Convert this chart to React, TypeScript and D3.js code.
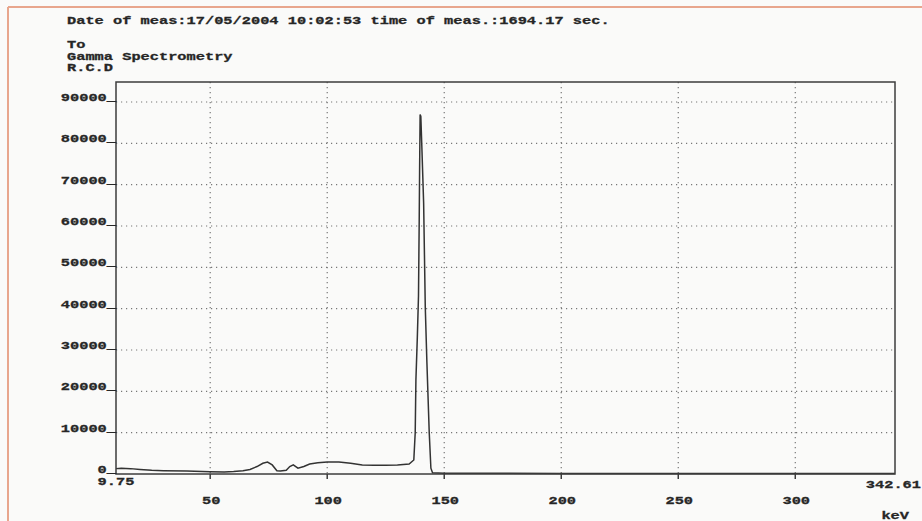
import React from "react";
import * as d3 from "d3";

// header lines of the printout
const headerLines = ["Date of meas:17/05/2004 10:02:53 time of meas.:1694.17 sec."];
const addressLines = ["To", "Gamma Spectrometry", "R.C.D"];

// axis ticks
const yTicks = [0, 10000, 20000, 30000, 40000, 50000, 60000, 70000, 80000, 90000];
const xTicks = [50, 100, 150, 200, 250, 300];
const xMin = 9.75;
const xMax = 342.61;

// spectrum (energy keV, counts)
const energy = [
  9.75, 12, 16, 20, 25, 30, 40, 50, 56, 60, 64, 67, 70, 72.5, 74.5, 76.5, 78.5, 80, 82.5, 84,
  85.5, 87.5, 90, 92.5, 96, 100, 105, 110, 115, 120, 125, 130, 135, 137, 137.6, 137.9, 138.5,
  139, 139.3, 139.5, 139.7, 140, 140.5, 141.2, 141.9, 142.6, 143.6, 144.3, 145, 150, 200, 250,
  300, 342.61,
];
const counts = [
  1300, 1400, 1300, 1100, 900, 800, 700, 550, 500, 600, 800, 1100, 1800, 2600, 2900, 2200, 800,
  700, 900, 1800, 2200, 1400, 1800, 2400, 2700, 2900, 2900, 2600, 2200, 2100, 2100, 2200, 2400,
  3400, 10000, 22800, 33000, 43000, 60700, 75000, 87000, 86500, 78000, 65600, 40400, 26900, 9900,
  1400, 300, 200, 150, 150, 150, 150,
];

const W = 922;
const H = 521;
const left = 116;
const right = 895;
const top = 82;
const bottom = 474;
const charW = 9.2; // width of one printer character
const fontSize = 11.5;
const sx = charW / (0.6 * fontSize); // monospace advance is 0.6em

const font = {
  fontFamily: "'Liberation Mono', 'DejaVu Sans Mono', monospace",
  fontWeight: 700,
  fontSize,
  fill: "#262626",
  stroke: "#262626",
  strokeWidth: 0.3,
};

// printer-like text: glyphs stretched sideways to a fixed cell width
function PText(props: { x: number; y: number; anchor?: string; children: string }) {
  const s = props.children;
  const w = s.length * charW;
  const x0 = props.anchor === "end" ? props.x - w : props.anchor === "middle" ? props.x - w / 2 : props.x;
  return (
    <text transform={`translate(${x0},${props.y}) scale(${sx},1)`} {...font}>
      {s}
    </text>
  );
}

export default function App() {
  const x = d3.scaleLinear().domain([xMin, xMax]).range([left, right]);
  const y = d3.scaleLinear().domain([0, 90000]).range([bottom, 102]);

  const points = energy.map((e, i) => [e, counts[i]] as [number, number]);
  const line = d3
    .line<[number, number]>()
    .x((d) => x(d[0]))
    .y((d) => y(d[1]));

  return (
    <svg
      width={W}
      height={H}
      style={{ position: "absolute", left: 0, top: 0, display: "block" }}
    >
      <rect x={0} y={0} width={W} height={H} fill="#fafaf9" />
      {/* orange page frame */}
      <line x1={8} x2={W} y1={7} y2={7} stroke="#e8a68d" strokeWidth={2} />
      <line x1={8} x2={8} y1={7} y2={H} stroke="#e8a68d" strokeWidth={2} />

      {headerLines.map((t, i) => (
        <PText key={t} x={67} y={24 + i * 12}>
          {t}
        </PText>
      ))}
      {addressLines.map((t, i) => (
        <PText key={t} x={67} y={48 + i * 11.5}>
          {t}
        </PText>
      ))}

      {/* dotted grid */}
      {yTicks
        .filter((v) => v > 0)
        .map((v) => (
          <line
            key={"gy" + v}
            x1={left}
            x2={right}
            y1={y(v)}
            y2={y(v)}
            stroke="#777"
            strokeWidth={1.2}
            strokeDasharray="1.2 3.8"
          />
        ))}
      {xTicks.map((v) => (
        <line
          key={"gx" + v}
          x1={x(v)}
          x2={x(v)}
          y1={top}
          y2={bottom}
          stroke="#777"
          strokeWidth={1.2}
          strokeDasharray="1.2 3.8"
        />
      ))}

      {/* spectrum */}
      <path d={line(points) ?? ""} fill="none" stroke="#333" strokeWidth={1.5} />

      {/* frame of the plot */}
      <rect
        x={left}
        y={top}
        width={right - left}
        height={bottom - top}
        fill="none"
        stroke="#3c3c3c"
        strokeWidth={1.5}
      />

      {/* y labels */}
      {yTicks.map((v) => (
        <PText key={"ly" + v} x={116} y={y(v) - 1} anchor="end">
          {String(v) + "_"}
        </PText>
      ))}

      {/* x ticks and labels */}
      {xTicks.map((v) => (
        <g key={"lx" + v}>
          <line x1={x(v)} x2={x(v)} y1={bottom} y2={bottom + 5} stroke="#3c3c3c" strokeWidth={1.5} />
          <PText x={x(v) + 1} y={504} anchor="middle">
            {String(v)}
          </PText>
        </g>
      ))}
      <PText x={x(xMin)} y={485} anchor="middle">
        {String(xMin)}
      </PText>
      <PText x={921} y={488} anchor="end">
        {String(xMax)}
      </PText>
      <PText x={909} y={519} anchor="end">
        keV
      </PText>
    </svg>
  );
}
